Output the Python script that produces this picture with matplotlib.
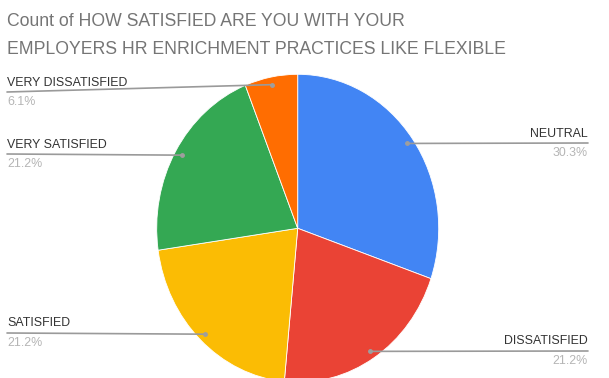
import numpy as np
import matplotlib
matplotlib.use('Agg')
import matplotlib.pyplot as plt

# Survey answers (count of responses)
categories = ['NEUTRAL', 'DISSATISFIED', 'SATISFIED', 'VERY SATISFIED', 'VERY DISSATISFIED']
counts = [10, 7, 7, 7, 2]
colors = ['#4285F4', '#EA4335', '#FBBC04', '#34A853', '#FF6D01']

# Label placement: side of the chart and y (pixels from top) of the leader line end
label_side = ['right', 'right', 'left', 'left', 'left']
label_line_y = [143, 351, 333, 154, 92]

W, H = 609, 378
fig = plt.figure(figsize=(W / 100, H / 100), dpi=100)
plt.rcParams['font.family'] = ['Liberation Sans', 'DejaVu Sans']

# pie axes, slightly taller than wide
cx, cy, rx, ry = 297.7, 228.3, 141, 154
ax = fig.add_axes([(cx - rx) / W, (H - cy - ry) / H, 2 * rx / W, 2 * ry / H])
wedges, _ = ax.pie(counts, colors=colors, startangle=90, counterclock=False,
                   wedgeprops=dict(linewidth=0.6, edgecolor='white'))
ax.set_aspect('auto')
ax.set_xlim(-1, 1)
ax.set_ylim(-1, 1)
ax.axis('off')

fig.text(7 / W, 1 - 21 / H, 'Count of HOW SATISFIED ARE YOU WITH YOUR',
         fontsize=12.7, color='#757575', va='center', ha='left')
fig.text(7 / W, 1 - 50 / H, 'EMPLOYERS HR ENRICHMENT PRACTICES LIKE FLEXIBLE',
         fontsize=12.7, color='#757575', va='center', ha='left')

total = sum(counts)
for w, name, n, side, ly in zip(wedges, categories, counts, label_side, label_line_y):
    theta = np.deg2rad((w.theta1 + w.theta2) / 2)
    px, py = 0.95 * np.cos(theta), 0.95 * np.sin(theta)
    ax.plot(px, py, 'o', ms=2.5, color='#9e9e9e', zorder=5)
    if side == 'right':
        xe, ha = 588, 'right'
    else:
        xe, ha = 7, 'left'
    ax.annotate('', xy=(px, py), xycoords='data',
                xytext=(xe, H - ly), textcoords='figure pixels',
                arrowprops=dict(arrowstyle='-', color='#9a9a9a', lw=1.2,
                                shrinkA=0, shrinkB=0),
                annotation_clip=False)
    fig.text(xe / W, 1 - (ly - 9.5) / H, name, fontsize=8.9, color='#333333',
             ha=ha, va='center')
    fig.text(xe / W, 1 - (ly + 10) / H, f'{n / total * 100:.1f}%', fontsize=8.9,
             color='#b5b5b5', ha=ha, va='center')

fig.savefig('out.png', dpi=100)
